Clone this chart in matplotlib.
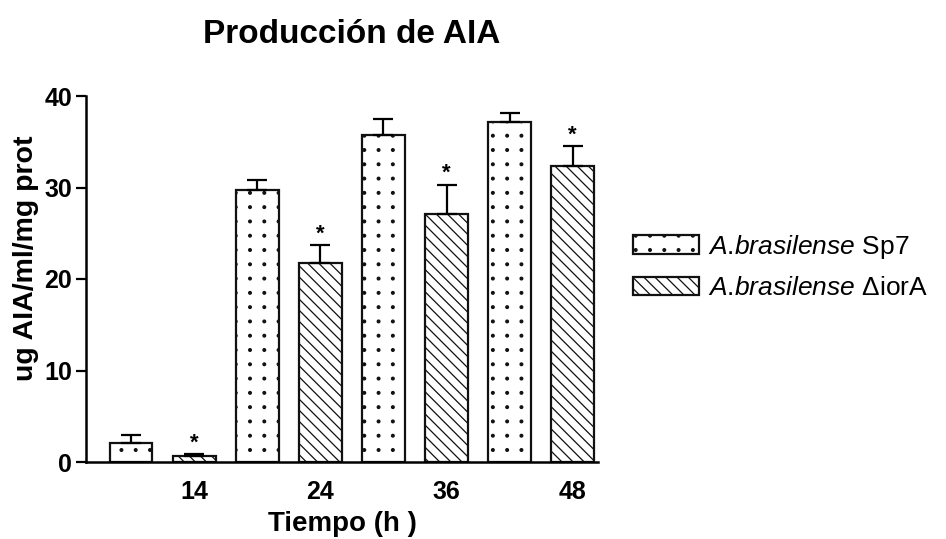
import numpy as np
import matplotlib
matplotlib.use('Agg')
import matplotlib.pyplot as plt
import matplotlib.hatch as mhatch
from matplotlib.path import Path

# ---------------- data ----------------
times = ['14', '24', '36', '48']
sp7_mean = [2.1, 29.7, 35.7, 37.2]
sp7_err = [0.9, 1.1, 1.8, 0.9]
ior_mean = [0.7, 21.7, 27.1, 32.3]
ior_err = [0.15, 2.0, 3.2, 2.2]
ior_signif = [True, True, True, True]
series_labels = [r'$\mathit{A}$.$\mathit{brasilense}$ Sp7',
                 r'$\mathit{A}$.$\mathit{brasilense}$ ΔiorA']
title_text = 'Producción de AIA'
xlabel_text = 'Tiempo (h )'
ylabel_text = 'ug AIA/ml/mg prot'
yticks = [0, 10, 20, 30, 40]


# aligned grid of dots for the '.' hatch (reference uses a square dot grid)
class GridDots(mhatch.HatchPatternBase):
    def __init__(self, hatch, density):
        self.num_rows = hatch.count('.') * 7
        circ = Path.unit_circle()
        self.cv = circ.vertices
        self.cc = circ.codes
        self.num_vertices = self.num_rows ** 2 * len(self.cv)

    def set_vertices_and_codes(self, vertices, codes):
        n = self.num_rows
        r = 0.095 / n
        vparts, cparts = [], []
        for i in range(n):
            for j in range(n):
                vparts.append(self.cv * r + [(i + 0.5) / n, (j + 0.5) / n])
                cparts.append(self.cc)
        np.concatenate(vparts, out=vertices)
        np.concatenate(cparts, out=codes)


mhatch._hatch_types = [GridDots if t is mhatch.SmallFilledCircles else t
                       for t in mhatch._hatch_types]

plt.rcParams['font.family'] = ['Liberation Sans', 'DejaVu Sans']
plt.rcParams['mathtext.fontset'] = 'custom'
plt.rcParams['mathtext.it'] = 'Liberation Sans:italic'
plt.rcParams['mathtext.rm'] = 'Liberation Sans'
plt.rcParams['hatch.linewidth'] = 0.9

W, H = 946, 539
fig = plt.figure(figsize=(W / 100, H / 100), dpi=100)
ax = fig.add_axes([86 / W, 1 - 462 / H, 512 / W, 366 / H])

x_sp7 = np.arange(len(times)) * 2
x_ior = x_sp7 + 1
bw = 0.68
ekw = dict(elinewidth=1.6, capthick=1.6, ecolor='black')

b1 = ax.bar(x_sp7, sp7_mean, width=bw, color='white', edgecolor='#111111',
            linewidth=1.6, hatch='.', yerr=[np.zeros(len(times)), sp7_err],
            capsize=7.5, error_kw=ekw, label=series_labels[0])
b2 = ax.bar(x_ior, ior_mean, width=bw, color='white', edgecolor='#111111',
            linewidth=1.6, hatch='\\\\\\', yerr=[np.zeros(len(times)), ior_err],
            capsize=7.5, error_kw=ekw, label=series_labels[1])

for x, m, e, s in zip(x_ior, ior_mean, ior_err, ior_signif):
    if s:
        ax.annotate('*', (x, m + e), xytext=(0, 4), textcoords='offset points',
                    ha='center', va='baseline', fontsize=16, fontweight='bold')

ax.set_xlim(-0.713, 7.40)
ax.set_ylim(0, 40)
ax.set_yticks(yticks)
ax.set_xticks(x_ior)
ax.set_xticklabels(times)
for s in ['top', 'right']:
    ax.spines[s].set_visible(False)
for s in ['left', 'bottom']:
    ax.spines[s].set_linewidth(1.8)
ax.tick_params(axis='y', length=7, width=1.6, pad=3, labelsize=18)
ax.tick_params(axis='x', length=0, pad=13, labelsize=18)
for lab in ax.get_xticklabels() + ax.get_yticklabels():
    lab.set_fontweight('bold')

fig.text(352 / W, 1 - 43 / H, title_text, ha='center', va='baseline',
         fontsize=24, fontweight='bold')
fig.text(342 / W, 1 - 531 / H, xlabel_text, ha='center', va='baseline',
         fontsize=20, fontweight='bold')
fig.text(26 / W, 1 - 258 / H, ylabel_text, ha='center', va='center',
         rotation=90, fontsize=20.5, fontweight='bold')

fig.legend(handles=[b1, b2], labels=series_labels, loc='center left',
           bbox_to_anchor=(633 / W, 1 - 266.5 / H), frameon=False, fontsize=19,
           handlelength=2.5, handleheight=0.7, handletextpad=0.34,
           labelspacing=0.6, borderpad=0, borderaxespad=0)

fig.savefig('out.png', dpi=100)
